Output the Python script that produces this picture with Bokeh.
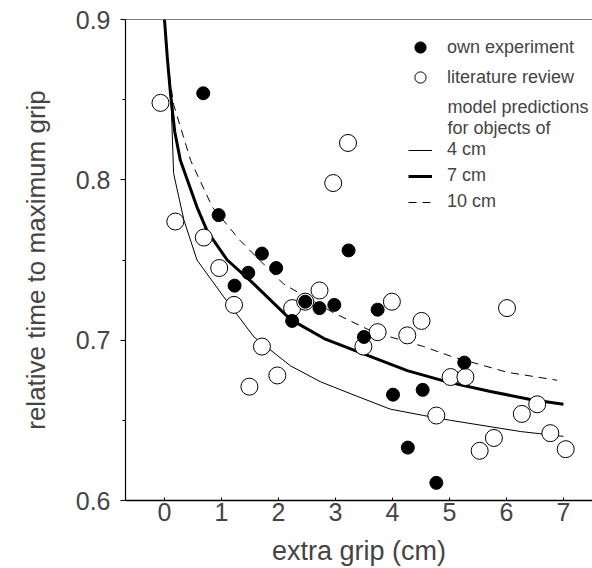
from bokeh.plotting import figure
from bokeh.models import Range1d, FixedTicker, Span, Legend, LegendItem, Label
from bokeh.embed import file_html
from bokeh.resources import INLINE

# own experiment (filled circles)
own_x = [0.68, 0.95, 1.23, 1.47, 1.71, 1.96, 2.24, 2.47, 2.72, 2.98, 3.23, 3.50, 3.74, 4.01, 4.27, 4.53, 4.77, 5.26]
own_y = [0.854, 0.778, 0.734, 0.742, 0.754, 0.745, 0.712, 0.724, 0.720, 0.722, 0.756, 0.702, 0.719, 0.666, 0.633, 0.669, 0.611, 0.686]

# literature review (open circles)
lit_x = [-0.07, 0.19, 0.69, 0.96, 1.22, 1.49, 1.71, 1.98, 2.24, 2.47, 2.72, 2.96, 3.22, 3.49, 3.74, 3.99, 4.26,
         4.51, 4.77, 5.02, 5.28, 5.53, 5.78, 6.01, 6.27, 6.54, 6.77, 7.04]
lit_y = [0.848, 0.774, 0.764, 0.745, 0.722, 0.671, 0.696, 0.678, 0.720, 0.724, 0.731, 0.798, 0.823, 0.696, 0.705,
         0.724, 0.703, 0.712, 0.653, 0.677, 0.677, 0.631, 0.639, 0.720, 0.654, 0.660, 0.642, 0.632]

# model predictions
m4_x = [0, 0.05, 0.12, 0.16, 0.34, 0.57, 1.04, 1.57, 2.21, 2.74, 3.38, 3.96, 4.55, 5.02, 6.25, 7.0]
m4_y = [0.9, 0.874, 0.845, 0.804, 0.775, 0.750, 0.727, 0.702, 0.684, 0.674, 0.665, 0.657, 0.653, 0.650, 0.643, 0.640]
m7_x = [0, 0.05, 0.105, 0.18, 0.28, 0.57, 0.75, 1.10, 1.51, 2.21, 2.80, 3.38, 4.26, 4.96, 5.72, 6.42, 7.0]
m7_y = [0.9, 0.876, 0.854, 0.830, 0.812, 0.783, 0.768, 0.750, 0.737, 0.713, 0.701, 0.693, 0.681, 0.674, 0.668, 0.663, 0.660]
m10_x = [0, 0.06, 0.16, 0.46, 0.84, 1.33, 2.09, 2.97, 3.67, 4.55, 5.02, 6.01, 6.89]
m10_y = [0.9, 0.872, 0.847, 0.812, 0.783, 0.762, 0.735, 0.717, 0.705, 0.696, 0.690, 0.680, 0.675]

x_ticks = [0, 1, 2, 3, 4, 5, 6, 7]
y_ticks = [0.6, 0.7, 0.8, 0.9]
y_minor = [0.65, 0.75, 0.85]

FONT = "Liberation Sans"

p = figure(width=592, height=568, output_backend="svg", toolbar_location=None,
           x_range=Range1d(-0.684, 7.51), y_range=Range1d(0.6, 0.9),
           min_border_left=125, min_border_right=0, min_border_top=19, min_border_bottom=67)
p.outline_line_color = None
p.grid.visible = False
p.background_fill_color = "white"
p.border_fill_color = "white"

# axes
xa = p.xaxis[0]
xa.ticker = FixedTicker(ticks=x_ticks)
xa.axis_label = "extra grip (cm)"
xa.axis_label_text_font = FONT
xa.axis_label_text_font_size = "27px"
xa.axis_label_text_font_style = "normal"
xa.axis_label_standoff = 12
xa.major_label_text_font = FONT
xa.major_label_text_font_size = "25px"
xa.major_label_standoff = 2
xa.major_tick_in = 3
xa.major_tick_out = 0
xa.minor_tick_line_color = None
xa.axis_line_color = "black"
xa.axis_line_width = 1.5

ya = p.yaxis[0]
ya.ticker = FixedTicker(ticks=y_ticks, minor_ticks=y_minor)
ya.axis_label = "relative time to maximum grip"
ya.axis_label_text_font = FONT
ya.axis_label_text_font_size = "26px"
ya.axis_label_text_font_style = "normal"
ya.axis_label_standoff = 22
ya.major_label_text_font = FONT
ya.major_label_text_font_size = "25px"
ya.major_label_standoff = 10
ya.major_tick_in = 0
ya.major_tick_out = 5
ya.minor_tick_in = 0
ya.minor_tick_out = 3
ya.axis_line_color = "black"
ya.axis_line_width = 1.2

p.add_layout(Span(location=0.9, dimension="width", line_color="black", line_width=1.2))

# model lines
r4 = p.line(m4_x, m4_y, line_color="black", line_width=1)
r7 = p.line(m7_x, m7_y, line_color="black", line_width=3)
r10 = p.line(m10_x, m10_y, line_color="black", line_width=1, line_dash="8 6")

# points
rlit = p.scatter(lit_x, lit_y, size=17, marker="circle", fill_color="white", line_color="black", line_width=1)
rown = p.scatter(own_x, own_y, size=13, marker="circle", fill_color="black", line_color="black")

legA = Legend(items=[LegendItem(label="own experiment", renderers=[rown]),
                     LegendItem(label="literature review", renderers=[rlit])],
              location=(281, 409), glyph_width=28, glyph_height=28, spacing=2, padding=0, margin=0,
              label_standoff=13, label_text_font=FONT, label_text_font_size="18px",
              border_line_color=None, background_fill_alpha=0)
legB = Legend(items=[LegendItem(label="4 cm", renderers=[r4]),
                     LegendItem(label="7 cm", renderers=[r7]),
                     LegendItem(label="10 cm", renderers=[r10])],
              location=(283, 288), glyph_width=24, glyph_height=20, spacing=5, padding=0, margin=0,
              label_standoff=15, label_text_font=FONT, label_text_font_size="18px",
              border_line_color=None, background_fill_alpha=0)
p.add_layout(legA)
p.add_layout(legB)

for txt, yy in [("model predictions", 0.8452), ("for objects of", 0.8322)]:
    p.add_layout(Label(x=4.965, y=yy, text=txt, text_font=FONT, text_font_size="18px",
                       text_baseline="middle", text_align="left"))

open("out.html", "w").write(file_html(p, INLINE))
